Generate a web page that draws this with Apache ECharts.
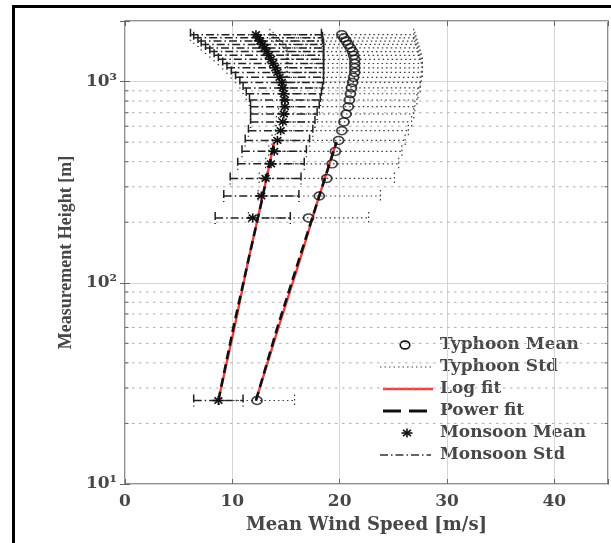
<!DOCTYPE html>
<html><head><meta charset="utf-8">
<script src="https://cdn.jsdelivr.net/npm/echarts@6/dist/echarts.min.js"></script>
<style>html,body{margin:0;padding:0;background:#fff}#c{width:611px;height:543px}</style>
</head><body><div id="c"></div>
<script>
// ---- data ----
const heights = [26, 210, 270, 330, 390, 450, 510, 570, 630, 690, 750, 810, 870, 930, 990,
  1050, 1110, 1170, 1230, 1290, 1350, 1410, 1470, 1530, 1590, 1650, 1710];
const typhoonMean = [12.3, 17.1, 18.1, 18.8, 19.3, 19.6, 19.9, 20.2, 20.4, 20.6, 20.8, 20.9, 21.0, 21.1, 21.2,
  21.3, 21.4, 21.4, 21.4, 21.4, 21.3, 21.2, 21.0, 20.8, 20.6, 20.4, 20.2];
const typhoonStd = [3.5, 5.6, 5.7, 6.3, 6.2, 6.2, 6.2, 6.2, 6.3, 6.3, 6.2, 6.3, 6.3, 6.4, 6.3,
  6.3, 6.3, 6.3, 6.3, 6.2, 6.2, 6.2, 6.3, 6.4, 6.5, 6.6, 6.7];
const monsoonMean = [8.7, 11.9, 12.7, 13.1, 13.6, 13.9, 14.2, 14.5, 14.7, 14.8, 14.9, 14.9, 14.8, 14.7, 14.6,
  14.4, 14.2, 14.0, 13.8, 13.6, 13.4, 13.2, 13.0, 12.8, 12.6, 12.4, 12.2];
const monsoonStd = [2.3, 3.5, 3.5, 3.3, 3.1, 3.0, 3.0, 3.0, 3.0, 3.1, 3.2, 3.3, 3.5, 3.7, 3.9,
  4.1, 4.3, 4.5, 4.7, 4.9, 5.1, 5.3, 5.5, 5.7, 5.8, 6.0, 6.1];
const fitHeights = [26, 60, 130, 250, 500];
const typhoonLogFit = [12.2, 14.3, 16.3, 17.9, 19.7];
const typhoonPowerFit = [12.2, 14.2, 16.2, 17.9, 19.7];
const monsoonLogFit = [8.7, 10.2, 11.5, 12.7, 13.9];
const monsoonPowerFit = [8.7, 10.1, 11.5, 12.7, 13.9];
const xTickValues = [0, 10, 20, 30, 40];
const yTickLabels = {1: '10\u00B9', 2: '10\u00B2', 3: '10\u00B3'};
const minorHeights = [20, 30, 40, 50, 60, 70, 80, 90, 200, 300, 400, 500, 600, 700, 800, 900];
const legendNames = ['Typhoon Mean', 'Typhoon Std', 'Log fit', 'Power fit', 'Monsoon Mean', 'Monsoon Std'];

// ---- chart ----
const chart = echarts.init(document.getElementById('c'), null, {renderer: 'canvas'});
const SERIF = 'DejaVu Serif';
const TXT = '#474747';

function errorBarRender(dash, width, color, capHalf) {
  return function (params, api) {
    const h = api.value(0), m = api.value(1), s = api.value(2);
    const p1 = api.coord([m - s, h]), p2 = api.coord([m + s, h]);
    const style = {stroke: color, lineWidth: width, lineDash: dash, fill: null};
    return {type: 'group', children: [
      {type: 'line', shape: {x1: p1[0], y1: p1[1], x2: p2[0], y2: p2[1]}, style: style},
      {type: 'line', shape: {x1: p1[0], y1: p1[1] - capHalf, x2: p1[0], y2: p1[1] + capHalf}, style: style},
      {type: 'line', shape: {x1: p2[0], y1: p2[1] - capHalf, x2: p2[0], y2: p2[1] + capHalf}, style: style}
    ]};
  };
}

function starShapes(cx, cy, rx, ry, color, w) {
  const st = {stroke: color, lineWidth: w};
  const dx = rx * 0.72, dy = ry * 0.72;
  return [
    {type: 'line', shape: {x1: cx - rx, y1: cy, x2: cx + rx, y2: cy}, style: st},
    {type: 'line', shape: {x1: cx, y1: cy - ry, x2: cx, y2: cy + ry}, style: st},
    {type: 'line', shape: {x1: cx - dx, y1: cy - dy, x2: cx + dx, y2: cy + dy}, style: st},
    {type: 'line', shape: {x1: cx - dx, y1: cy + dy, x2: cx + dx, y2: cy - dy}, style: st}
  ];
}

const errData = (mean, std) => heights.map((h, i) => [h, mean[i], std[i]]);
const ptData = (vals, hs) => hs.map((h, i) => [vals[i], h]);

function yFmt(v) {
  const e = Math.log10(v);
  const r = Math.round(e);
  if (Math.abs(e - r) < 1e-6 && yTickLabels[r]) return yTickLabels[r];
  return '';
}
function xFmt(v) {
  return xTickValues.indexOf(Math.round(v)) >= 0 && Math.abs(v - Math.round(v)) < 1e-6 ? String(Math.round(v)) : '';
}

const gridSplit = {show: true, lineStyle: {color: '#d6d6d6', width: 1}};

// legend built from graphic elements
const LX = 380, TX = 440, rows = [345, 367, 389, 411, 433, 455];
const legendEls = [
  {type: 'rect', shape: {x: 366, y: 331, width: 230, height: 139}, style: {fill: '#fff'}},
  {type: 'ellipse', shape: {cx: 405, cy: rows[0], rx: 4.8, ry: 3.9}, style: {fill: 'none', stroke: '#111', lineWidth: 1.6}},
  {type: 'line', shape: {x1: LX, y1: rows[1], x2: 431, y2: rows[1]}, style: {stroke: '#444', lineWidth: 1.2, lineDash: [1.5, 3]}},
  {type: 'line', shape: {x1: 383, y1: rows[2], x2: 433, y2: rows[2]}, style: {stroke: '#f43c3c', lineWidth: 2.4}},
  {type: 'line', shape: {x1: 383, y1: rows[3], x2: 428, y2: rows[3]}, style: {stroke: '#111', lineWidth: 2.8, lineDash: [18, 8]}},
  {type: 'group', children: starShapes(407, rows[4], 5.5, 4.5, '#111', 1.6)},
  {type: 'line', shape: {x1: LX, y1: rows[5], x2: 431, y2: rows[5]}, style: {stroke: '#333', lineWidth: 1.4, lineDash: [8, 3, 1.5, 3]}}
];
legendNames.forEach((n, i) => {
  legendEls.push({type: 'text', x: TX, y: rows[i], style: {text: n, font: 'bold 17px "' + SERIF + '"', fill: TXT, textVerticalAlign: 'middle', textAlign: 'left'}});
});

const option = {
  animation: false,
  backgroundColor: '#fff',
  grid: {left: 125, top: 21, right: 3, bottom: 59, show: true, borderColor: '#6b6b6b', borderWidth: 1.5, backgroundColor: '#fff'},
  xAxis: [{
    type: 'value', min: 0, max: 45, interval: 10,
    name: 'Mean Wind Speed [m/s]', nameLocation: 'middle', nameGap: 32,
    nameTextStyle: {fontFamily: SERIF, fontSize: 18, fontWeight: 'bold', color: TXT},
    axisLine: {show: false},
    axisTick: {show: true, inside: true, length: 5, lineStyle: {color: '#666'}},
    axisLabel: {formatter: xFmt, fontFamily: SERIF, fontSize: 17, fontWeight: 'bold', color: TXT, margin: 9},
    splitLine: gridSplit
  }, {
    type: 'value', min: 0, max: 45, interval: 10, position: 'top',
    axisLine: {show: false}, axisLabel: {show: false}, splitLine: {show: false},
    axisTick: {show: true, inside: true, length: 5, lineStyle: {color: '#666'}}
  }],
  yAxis: [{
    type: 'log', logBase: 10, min: 10, max: 2000,
    name: 'Measurement Height [m]', nameLocation: 'middle', nameGap: 47, nameRotate: 90,
    nameTextStyle: {fontFamily: 'Liberation Serif', fontSize: 18, fontWeight: 'bold', color: TXT},
    axisLine: {show: false},
    axisTick: {show: true, inside: true, length: 5, lineStyle: {color: '#666'}},
    axisLabel: {formatter: yFmt, fontFamily: SERIF, fontSize: 17, fontWeight: 'bold', color: TXT, margin: 8},
    splitLine: gridSplit
  }, {
    type: 'log', logBase: 10, min: 10, max: 2000, position: 'right',
    axisLine: {show: false}, axisLabel: {show: false}, splitLine: {show: false},
    axisTick: {show: true, inside: true, length: 5, lineStyle: {color: '#666'}}
  }],
  series: [
    {
      name: 'minor grid', type: 'custom', z: 1, silent: true,
      data: minorHeights.map(h => [0, h]), encode: {x: 0, y: 1},
      renderItem: function (params, api) {
        const y = api.coord([0, api.value(1)])[1];
        const cs = params.coordSys;
        return {type: 'group', children: [
          {type: 'line', shape: {x1: cs.x, y1: y, x2: cs.x + cs.width, y2: y}, style: {stroke: '#adadad', lineWidth: 1, lineDash: [2.5, 4.5]}},
          {type: 'line', shape: {x1: cs.x, y1: y, x2: cs.x + 3.5, y2: y}, style: {stroke: '#666', lineWidth: 1}},
          {type: 'line', shape: {x1: cs.x + cs.width - 3.5, y1: y, x2: cs.x + cs.width, y2: y}, style: {stroke: '#666', lineWidth: 1}}
        ]};
      }
    },
    {
      name: 'Typhoon Std', type: 'custom', z: 3,
      data: errData(typhoonMean, typhoonStd), encode: {x: 1, y: 0},
      renderItem: errorBarRender([1.5, 3], 1.2, '#3a3a3a', 6)
    },
    {
      name: 'Monsoon Std', type: 'custom', z: 4,
      data: errData(monsoonMean, monsoonStd), encode: {x: 1, y: 0},
      renderItem: errorBarRender([8, 3, 1.5, 3], 1.5, '#222', 6)
    },
    {
      name: 'Log fit', type: 'line', z: 5, showSymbol: false, symbol: 'none',
      data: ptData(typhoonLogFit, fitHeights),
      lineStyle: {color: '#f43c3c', width: 2.4}
    },
    {
      name: 'Log fit', type: 'line', z: 5, showSymbol: false, symbol: 'none',
      data: ptData(monsoonLogFit, fitHeights),
      lineStyle: {color: '#f43c3c', width: 2.4}
    },
    {
      name: 'Power fit', type: 'line', z: 6, showSymbol: false, symbol: 'none',
      data: ptData(typhoonPowerFit, fitHeights),
      lineStyle: {color: '#111', width: 2.6, type: [9, 5]}
    },
    {
      name: 'Power fit', type: 'line', z: 6, showSymbol: false, symbol: 'none',
      data: ptData(monsoonPowerFit, fitHeights),
      lineStyle: {color: '#111', width: 2.6, type: [9, 5]}
    },
    {
      name: 'Typhoon Mean', type: 'scatter', z: 7,
      data: ptData(typhoonMean, heights),
      symbol: 'circle', symbolSize: [10, 8],
      itemStyle: {color: 'rgba(255,255,255,0)', borderColor: '#111', borderWidth: 1.6}
    },
    {
      name: 'Monsoon Mean', type: 'custom', z: 7,
      data: ptData(monsoonMean, heights), encode: {x: 0, y: 1},
      renderItem: function (params, api) {
        const p = api.coord([api.value(0), api.value(1)]);
        return {type: 'group', children: starShapes(p[0], p[1], 5.5, 4.5, '#111', 1.6)};
      }
    }
  ],
  graphic: [
    {type: 'group', z: 100, children: legendEls},
    {type: 'rect', z: 100, shape: {x: 13.5, y: 6.5, width: 700, height: 700}, style: {fill: 'none', stroke: '#000', lineWidth: 3}}
  ]
};
chart.setOption(option);
</script>
</body></html>
